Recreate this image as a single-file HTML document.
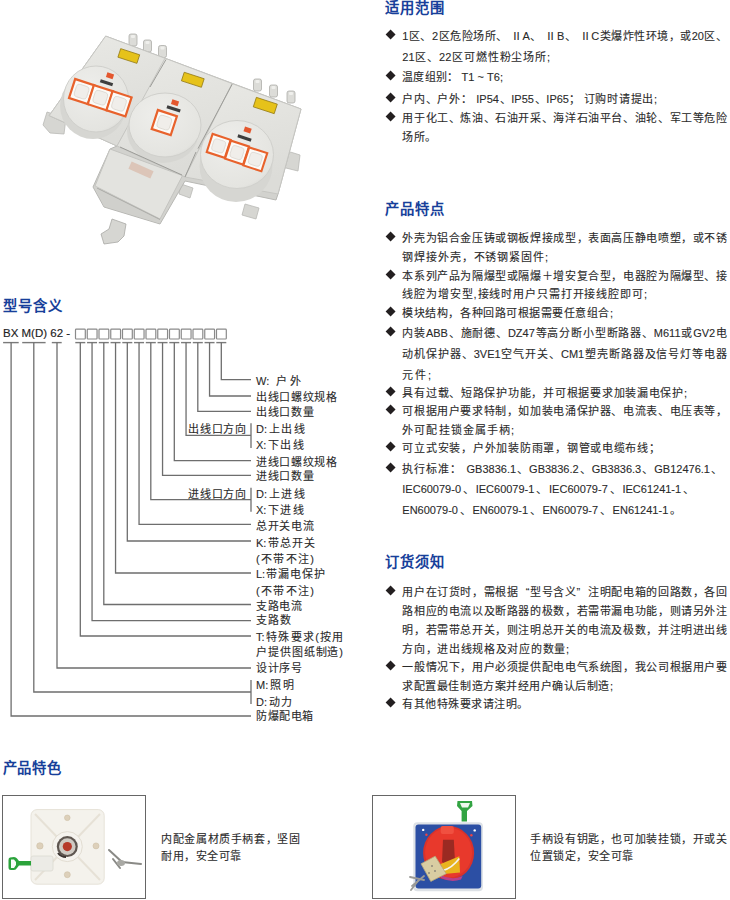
<!DOCTYPE html>
<html lang="zh-CN"><head><meta charset="utf-8">
<style>
html,body{margin:0;padding:0;background:#fff;}
body{width:730px;height:900px;overflow:hidden;position:relative;font-family:"Liberation Sans",sans-serif;color:#2a2a2a;}
.h{position:absolute;font-weight:bold;color:#173f9a;font-size:14.3px;line-height:16px;height:16px;white-space:nowrap;text-align:justify;text-align-last:justify;}
.t{position:absolute;-webkit-text-stroke:0.1px #2a2a2a;font-size:11.00px;line-height:16px;height:16px;white-space:nowrap;text-align:justify;text-align-last:justify;}
.q1{display:inline-block;width:11px;text-align:right;text-align-last:right}.q2{display:inline-block;width:11px;text-align:left;text-align-last:left}
.d{position:absolute;width:7.2px;height:7.2px;background:#231f20;transform:rotate(45deg);}
.l{position:absolute;-webkit-text-stroke:0.1px #2a2a2a;font-size:11px;line-height:14px;height:14px;white-space:nowrap;text-align:justify;text-align-last:justify;}
.c{position:absolute;color:#222;-webkit-text-stroke:0.15px #222;font-size:11.5px;line-height:14px;height:14px;white-space:nowrap;}
svg{position:absolute;left:0;top:0;}
</style></head><body>

<div class="h" style="left:385.0px;top:0.2px;width:58.5px">适用范围</div>
<div class="h" style="left:385.0px;top:200.7px;width:58.5px">产品特点</div>
<div class="h" style="left:385.0px;top:554.2px;width:58.5px">订货须知</div>
<div class="h" style="left:3.0px;top:298.2px;width:58.5px">型号含义</div>
<div class="t" style="left:402.3px;top:28.2px;width:324.7px">1区、2区危险场所、 ⅡA、 ⅡB、 ⅡC类爆炸性环境，或20区、</div>
<div class="d" style="left:386.7px;top:31.2px"></div>
<div class="t" style="left:402.3px;top:49.0px;width:147.7px">21区、22区可燃性粉尘场所;</div>
<div class="t" style="left:402.3px;top:69.4px;width:100.7px">温度组别： T1 ~ T6;</div>
<div class="d" style="left:386.7px;top:72.4px"></div>
<div class="t" style="left:402.3px;top:91.0px;width:254.7px">户内、户外： IP54、IP55、IP65； 订购时请提出;</div>
<div class="d" style="left:386.7px;top:94.0px"></div>
<div class="t" style="left:402.3px;top:110.0px;width:324.7px">用于化工、炼油、石油开采、海洋石油平台、油轮、军工等危险</div>
<div class="d" style="left:386.7px;top:113.0px"></div>
<div class="t" style="left:402.3px;top:129.3px;width:33.7px">场所。</div>
<div class="t" style="left:402.3px;top:230.3px;width:324.7px">外壳为铝合金压铸或钢板焊接成型，表面高压静电喷塑，或不锈</div>
<div class="d" style="left:386.7px;top:233.3px"></div>
<div class="t" style="left:402.3px;top:249.2px;width:145.7px">钢焊接外壳，不锈钢紧固件;</div>
<div class="t" style="left:402.3px;top:267.7px;width:324.7px">本系列产品为隔爆型或隔爆＋增安复合型，电器腔为隔爆型、接</div>
<div class="d" style="left:386.7px;top:270.7px"></div>
<div class="t" style="left:402.3px;top:286.4px;width:244.7px">线腔为增安型,接线时用户只需打开接线腔即可;</div>
<div class="t" style="left:402.3px;top:305.2px;width:210.7px">模块结构，各种回路可根据需要任意组合;</div>
<div class="d" style="left:386.7px;top:308.2px"></div>
<div class="t" style="left:402.3px;top:325.3px;width:324.7px">内装ABB、施耐德、DZ47等高分断小型断路器、M611或GV2电</div>
<div class="d" style="left:386.7px;top:328.3px"></div>
<div class="t" style="left:402.3px;top:346.3px;width:324.7px">动机保护器、3VE1空气开关、CM1塑壳断路器及信号灯等电器</div>
<div class="t" style="left:402.3px;top:366.5px;width:28.7px">元件;</div>
<div class="t" style="left:402.3px;top:384.8px;width:284.7px">具有过载、短路保护功能，并可根据要求加装漏电保护;</div>
<div class="d" style="left:386.7px;top:387.8px"></div>
<div class="t" style="left:402.3px;top:403.3px;width:324.7px">可根据用户要求特制，如加装电涌保护器、电流表、电压表等，</div>
<div class="d" style="left:386.7px;top:406.3px"></div>
<div class="t" style="left:402.3px;top:422.1px;width:111.7px">外可配挂锁金属手柄;</div>
<div class="t" style="left:402.3px;top:439.8px;width:257.7px">可立式安装，户外加装防雨罩，钢管或电缆布线；</div>
<div class="d" style="left:386.7px;top:442.8px"></div>
<div class="t" style="left:402.3px;top:461.1px;width:319.7px">执行标准： GB3836.1、GB3836.2、GB3836.3、GB12476.1、</div>
<div class="d" style="left:386.7px;top:464.1px"></div>
<div class="t" style="left:402.3px;top:480.7px;width:291.7px">IEC60079-0、IEC60079-1、IEC60079-7、IEC61241-1、</div>
<div class="t" style="left:402.3px;top:501.6px;width:278.7px">EN60079-0、EN60079-1、EN60079-7、EN61241-1。</div>
<div class="t" style="left:402.3px;top:584.3px;width:324.7px">用户在订货时，需根据<span class=q1>“</span>型号含义<span class=q2>”</span>注明配电箱的回路数，各回</div>
<div class="d" style="left:386.7px;top:587.3px"></div>
<div class="t" style="left:402.3px;top:603.3px;width:324.7px">路相应的电流以及断路器的极数，若需带漏电功能，则请另外注</div>
<div class="t" style="left:402.3px;top:621.7px;width:324.7px">明，若需带总开关，则注明总开关的电流及极数，并注明进出线</div>
<div class="t" style="left:402.3px;top:640.5px;width:166.7px">方向，进出线规格及对应的数量;</div>
<div class="t" style="left:402.3px;top:659.0px;width:324.7px">一般情况下，用户必须提供配电电气系统图，我公司根据用户要</div>
<div class="d" style="left:386.7px;top:662.0px"></div>
<div class="t" style="left:402.3px;top:677.6px;width:210.7px">求配置最佳制造方案并经用户确认后制造;</div>
<div class="t" style="left:402.3px;top:696.0px;width:125.7px">有其他特殊要求请注明。</div>
<div class="d" style="left:386.7px;top:699.0px"></div>
<div class="l" style="left:256.0px;top:373.6px;width:45.0px">W:  户外</div>
<div class="l" style="left:256.0px;top:389.6px;width:81.0px">出线口螺纹规格</div>
<div class="l" style="left:256.0px;top:404.6px;width:57.5px">出线口数量</div>
<div class="l" style="left:256.0px;top:421.6px;width:48.5px">D:上出线</div>
<div class="l" style="left:256.0px;top:438.2px;width:48.0px">X:下出线</div>
<div class="l" style="left:188.4px;top:421.7px;width:57.6px">出线口方向</div>
<div class="l" style="left:256.0px;top:454.6px;width:81.0px">进线口螺纹规格</div>
<div class="l" style="left:256.0px;top:469.2px;width:57.5px">进线口数量</div>
<div class="l" style="left:256.0px;top:486.6px;width:48.5px">D:上进线</div>
<div class="l" style="left:256.0px;top:502.6px;width:48.0px">X:下进线</div>
<div class="l" style="left:188.4px;top:487.2px;width:57.6px">进线口方向</div>
<div class="l" style="left:256.0px;top:519.1px;width:57.5px">总开关电流</div>
<div class="l" style="left:256.0px;top:535.6px;width:59.0px">K:带总开关</div>
<div class="l" style="left:256.0px;top:551.6px;width:58.0px">(不带不注)</div>
<div class="l" style="left:256.0px;top:567.1px;width:69.5px">L:带漏电保护</div>
<div class="l" style="left:256.0px;top:583.9px;width:58.0px">(不带不注)</div>
<div class="l" style="left:256.0px;top:598.9px;width:46.0px">支路电流</div>
<div class="l" style="left:256.0px;top:613.1px;width:34.5px">支路数</div>
<div class="l" style="left:256.0px;top:629.9px;width:87.5px">T:特殊要求(按用</div>
<div class="l" style="left:256.0px;top:645.1px;width:87.0px">户提供图纸制造)</div>
<div class="l" style="left:256.0px;top:660.6px;width:46.0px">设计序号</div>
<div class="l" style="left:256.0px;top:677.9px;width:38.5px">M:照明</div>
<div class="l" style="left:256.0px;top:694.6px;width:36.0px">D:动力</div>
<div class="l" style="left:256.0px;top:709.1px;width:57.0px">防爆配电箱</div>
<div class="c" style="left:3px;top:326.3px">BX M(D) 62 -</div>
<svg width="730" height="900" style="left:0;top:0" viewBox="0 0 730 900">
<g fill="none" stroke="#8a8a8a" stroke-width="1.2">
<rect x="75.50" y="329.1" width="9.8" height="9.9" rx="0.8"/>
<rect x="87.25" y="329.1" width="9.8" height="9.9" rx="0.8"/>
<rect x="99.00" y="329.1" width="9.8" height="9.9" rx="0.8"/>
<rect x="110.75" y="329.1" width="9.8" height="9.9" rx="0.8"/>
<rect x="122.50" y="329.1" width="9.8" height="9.9" rx="0.8"/>
<rect x="134.25" y="329.1" width="9.8" height="9.9" rx="0.8"/>
<rect x="146.00" y="329.1" width="9.8" height="9.9" rx="0.8"/>
<rect x="157.75" y="329.1" width="9.8" height="9.9" rx="0.8"/>
<rect x="169.50" y="329.1" width="9.8" height="9.9" rx="0.8"/>
<rect x="181.25" y="329.1" width="9.8" height="9.9" rx="0.8"/>
<rect x="193.00" y="329.1" width="9.8" height="9.9" rx="0.8"/>
<rect x="204.75" y="329.1" width="9.8" height="9.9" rx="0.8"/>
<rect x="216.50" y="329.1" width="9.8" height="9.9" rx="0.8"/>
</g>
<g fill="none" stroke="#7a7a7a" stroke-width="1.4">
<line x1="3.10" y1="342.6" x2="18.70" y2="342.6"/>
<line x1="22.20" y1="342.6" x2="45.60" y2="342.6"/>
<line x1="51.80" y1="342.6" x2="61.70" y2="342.6"/>
<line x1="75.30" y1="342.6" x2="85.30" y2="342.6"/>
<line x1="87.05" y1="342.6" x2="97.05" y2="342.6"/>
<line x1="98.80" y1="342.6" x2="108.80" y2="342.6"/>
<line x1="110.55" y1="342.6" x2="120.55" y2="342.6"/>
<line x1="122.30" y1="342.6" x2="132.30" y2="342.6"/>
<line x1="134.05" y1="342.6" x2="144.05" y2="342.6"/>
<line x1="145.80" y1="342.6" x2="155.80" y2="342.6"/>
<line x1="157.55" y1="342.6" x2="167.55" y2="342.6"/>
<line x1="169.30" y1="342.6" x2="179.30" y2="342.6"/>
<line x1="181.05" y1="342.6" x2="191.05" y2="342.6"/>
<line x1="192.80" y1="342.6" x2="202.80" y2="342.6"/>
<line x1="204.55" y1="342.6" x2="214.55" y2="342.6"/>
<line x1="216.30" y1="342.6" x2="226.30" y2="342.6"/>
</g>
<g fill="none" stroke="#6e6e6e" stroke-width="1.3">
<polyline points="11.10,342.6 11.10,716.00 251.00,716.00"/>
<polyline points="33.80,342.6 33.80,692.00 251.00,692.00"/>
<polyline points="57.00,342.6 57.00,668.00 251.00,668.00"/>
<polyline points="80.30,342.6 80.30,636.00 251.00,636.00"/>
<polyline points="92.05,342.6 92.05,620.70 251.00,620.70"/>
<polyline points="103.80,342.6 103.80,604.50 251.00,604.50"/>
<polyline points="115.55,342.6 115.55,573.00 251.00,573.00"/>
<polyline points="127.30,342.6 127.30,541.00 251.00,541.00"/>
<polyline points="139.05,342.6 139.05,524.30 251.00,524.30"/>
<polyline points="150.80,342.6 150.80,499.70 251.00,499.70"/>
<polyline points="162.55,342.6 162.55,475.30 251.00,475.30"/>
<polyline points="174.30,342.6 174.30,460.70 251.00,460.70"/>
<polyline points="186.05,342.6 186.05,435.30 251.00,435.30"/>
<polyline points="197.80,342.6 197.80,411.30 251.00,411.30"/>
<polyline points="209.55,342.6 209.55,396.00 251.00,396.00"/>
<polyline points="221.30,342.6 221.30,379.60 251.00,379.60"/>
<line x1="251.00" y1="423.30" x2="251.00" y2="448.00"/>
<line x1="251.00" y1="487.70" x2="251.00" y2="511.70"/>
<line x1="251.00" y1="680.00" x2="251.00" y2="704.00"/>
</g>
</svg>
<svg width="365" height="280" viewBox="0 0 365 280" style="left:0;top:0">
<defs>
<linearGradient id="gbox" x1="0" y1="0" x2="0.3" y2="1">
<stop offset="0" stop-color="#e9e9e5"/><stop offset="1" stop-color="#dcdcd8"/></linearGradient>
<radialGradient id="gcov" cx="0.4" cy="0.35" r="0.75">
<stop offset="0" stop-color="#eeeeeb"/><stop offset="0.85" stop-color="#e4e4e0"/><stop offset="1" stop-color="#d4d4d0"/></radialGradient>
</defs>
<!-- lugs -->
<g fill="#d6d6d2" stroke="#b9b9b5" stroke-width="0.8">
<polygon points="47,112 66,118 64,134 50,133 43,125"/>
<polygon points="284,150 300,155 298,171 282,167"/>
<polygon points="245,204 259,208 256,219 242,215"/>
<polygon points="181,184 193,188 190,198 179,194"/>
</g>
<!-- glands -->
<g fill="#dcdcd8" stroke="#adada9" stroke-width="0.8">
<rect x="129" y="34" width="8" height="12" rx="2"/>
<rect x="143.5" y="40" width="8" height="12" rx="2"/>
<rect x="158.5" y="45.5" width="8" height="12" rx="2"/>
<rect x="253.5" y="79" width="8" height="12" rx="2"/>
<rect x="269.5" y="85" width="8" height="12" rx="2"/>
<rect x="287" y="91" width="8" height="12" rx="2"/>
</g>
<g fill="#efefec"><rect x="131" y="35" width="4" height="3" rx="1"/><rect x="145.5" y="41" width="4" height="3" rx="1"/><rect x="160.5" y="46.5" width="4" height="3" rx="1"/><rect x="255.5" y="80" width="4" height="3" rx="1"/><rect x="271.5" y="86" width="4" height="3" rx="1"/><rect x="289" y="92" width="4" height="3" rx="1"/></g>
<!-- body silhouette -->
<polygon points="105.7,36.1 301,109 278,194 276,200 185,181 160,224 104,207 93,187 110,149 117,146 49.2,115.6" fill="#d2d2ce" stroke="#b8b8b4" stroke-width="1"/>
<!-- left box -->
<polygon points="105.7,36.1 167,59 117,146 49.2,115.6" fill="url(#gbox)" stroke="#c6c6c2" stroke-width="1"/>
<!-- middle box -->
<polygon points="165,58.2 232.2,83.6 185,177 117,146" fill="url(#gbox)" stroke="#c6c6c2" stroke-width="1"/>
<!-- right box -->
<polygon points="232.2,83.6 301,109 278,194 185,177" fill="url(#gbox)" stroke="#c6c6c2" stroke-width="1"/>
<!-- bottom box -->
<polygon points="110,149 182.5,175.6 160,219 95,186" fill="#e3e3df" stroke="#c4c4c0" stroke-width="1"/>
<polygon points="95,186 160,219 159,223 104,206" fill="#d0d0cc"/>
<line x1="97" y1="188" x2="160" y2="219.5" stroke="#aaaaa6" stroke-width="1"/>
<!-- cover rims -->
<g fill="#d6d6d2">
<ellipse cx="93" cy="106" rx="33" ry="33"/>
<ellipse cx="163" cy="131" rx="36" ry="32"/>
<ellipse cx="236" cy="166" rx="36.5" ry="36"/>
</g>
<!-- covers -->
<ellipse cx="96" cy="99" rx="32.5" ry="33" fill="url(#gcov)" stroke="#d0d0cc" stroke-width="1"/>
<ellipse cx="165" cy="125" rx="36" ry="32" fill="url(#gcov)" stroke="#d0d0cc" stroke-width="1"/>
<ellipse cx="237" cy="154.5" rx="36.5" ry="34" fill="url(#gcov)" stroke="#d0d0cc" stroke-width="1"/>
<!-- seams -->
<g stroke="#9d9d99" stroke-width="1" fill="none">
<line x1="166" y1="59.5" x2="150" y2="87"/>
<line x1="232.2" y1="84.2" x2="198" y2="148.6"/>
<line x1="196" y1="152" x2="185" y2="177"/>
<line x1="120" y1="147" x2="182" y2="175"/>
</g>
<!-- labels -->
<g fill="#e6c21a" stroke="#8f7410" stroke-width="0.7">
<rect x="-10" y="-4.5" width="20" height="9" transform="translate(128.8,56) rotate(18)"/>
<rect x="-10.5" y="-4.5" width="21" height="9" transform="translate(192.8,79.8) rotate(18)"/>
<rect x="-11" y="-5" width="22" height="10" transform="translate(265.3,105.5) rotate(18)"/>
</g>
<!-- switches -->
<g transform="translate(81.6,91.6) rotate(18)"><rect x="-10" y="-10" width="20" height="20" fill="#fbfaf7" stroke="#e8622c" stroke-width="2.2"/><rect x="-6.5" y="-6.5" width="13" height="13" rx="3" fill="#f0eeea" stroke="#dcd8d2" stroke-width="0.8"/></g>
<g transform="translate(100.3,97.7) rotate(18)"><rect x="-10" y="-10" width="20" height="20" fill="#fbfaf7" stroke="#e8622c" stroke-width="2.2"/><rect x="-6.5" y="-6.5" width="13" height="13" rx="3" fill="#f0eeea" stroke="#dcd8d2" stroke-width="0.8"/></g>
<g transform="translate(119,103.8) rotate(18)"><rect x="-10" y="-10" width="20" height="20" fill="#fbfaf7" stroke="#e8622c" stroke-width="2.2"/><rect x="-6.5" y="-6.5" width="13" height="13" rx="3" fill="#f0eeea" stroke="#dcd8d2" stroke-width="0.8"/></g>
<g transform="translate(164.3,122.6) rotate(18)"><rect x="-10" y="-10" width="20" height="20" fill="#fbfaf7" stroke="#e8622c" stroke-width="2.2"/><rect x="-6.5" y="-6.5" width="13" height="13" rx="3" fill="#f0eeea" stroke="#dcd8d2" stroke-width="0.8"/></g>
<g transform="translate(218.7,145.9) rotate(18) scale(0.95)"><rect x="-10" y="-10" width="20" height="20" fill="#fbfaf7" stroke="#e8622c" stroke-width="2.2"/><rect x="-6.5" y="-6.5" width="13" height="13" rx="3" fill="#f0eeea" stroke="#dcd8d2" stroke-width="0.8"/></g>
<g transform="translate(237,152.6) rotate(18) scale(0.95)"><rect x="-10" y="-10" width="20" height="20" fill="#fbfaf7" stroke="#e8622c" stroke-width="2.2"/><rect x="-6.5" y="-6.5" width="13" height="13" rx="3" fill="#f0eeea" stroke="#dcd8d2" stroke-width="0.8"/></g>
<g transform="translate(255.3,159.3) rotate(18) scale(0.95)"><rect x="-10" y="-10" width="20" height="20" fill="#fbfaf7" stroke="#e8622c" stroke-width="2.2"/><rect x="-6.5" y="-6.5" width="13" height="13" rx="3" fill="#f0eeea" stroke="#dcd8d2" stroke-width="0.8"/></g>
<g fill="#3e3e3e">
<rect x="-6.5" y="-1.6" width="13" height="3.2" transform="translate(106.5,82.8) rotate(18)"/>
<rect x="-7" y="-1.6" width="14" height="3.2" transform="translate(173.6,108.9) rotate(18)"/>
<rect x="-7" y="-1.6" width="14" height="3.2" transform="translate(244.5,138) rotate(18)"/>
</g>
<g fill="#e4572e">
<rect x="-3.5" y="-2.5" width="7" height="5" transform="translate(110,75.8) rotate(18)"/>
<rect x="-3.5" y="-2.5" width="7" height="5" transform="translate(175,102.7) rotate(18)"/>
<rect x="-3.5" y="-2.5" width="7" height="5" transform="translate(247.6,130) rotate(18)"/>
</g>
<!-- bottom gland -->
<polygon points="112,219 126,224 124,236 118,242 104,244 101,234 109,229" fill="#d6d6d2" stroke="#a8a8a4" stroke-width="0.8"/>
<rect x="-12" y="-4" width="24" height="8" transform="translate(141,170) rotate(24)" fill="#dcc5b8"/>
</svg>

<div style="position:absolute;left:1.75px;top:794.65px;width:142.6px;height:102.7px;border:1.3px solid #666;"></div>
<div style="position:absolute;left:371.65px;top:795.35px;width:142.7px;height:101.7px;border:1.3px solid #666;"></div>
<svg width="730" height="900" viewBox="0 0 730 900" style="left:0;top:0">
<!-- image 1: white plate -->
<rect x="31" y="809.6" width="73.2" height="74.6" rx="6" fill="#f4f2ec" stroke="#e6e2d8" stroke-width="1"/>
<g stroke="#e6e1d6" stroke-width="2" fill="none">
<line x1="35" y1="814" x2="58" y2="838"/><line x1="100" y1="814" x2="77" y2="838"/>
<line x1="35" y1="880" x2="58" y2="856"/><line x1="100" y1="880" x2="77" y2="856"/>
</g>
<circle cx="67.3" cy="846.6" r="15" fill="#f5f3ee" stroke="#e2ddd2" stroke-width="1"/>
<g fill="#ddd0ba" stroke="#cdbfa6" stroke-width="0.6">
<circle cx="67.3" cy="817.8" r="2.8"/><circle cx="39.9" cy="845.9" r="3.2"/>
<circle cx="96" cy="845.9" r="3"/><circle cx="67.3" cy="874.7" r="3"/>
</g>
<circle cx="67.3" cy="846.6" r="10.5" fill="#5e5650"/>
<circle cx="67.3" cy="846.6" r="8.3" fill="#cfcac3"/>
<circle cx="67.3" cy="846.6" r="4.6" fill="#b63a2a"/>
<path d="M58,853 A10,10 0 0 0 66,857" stroke="#3a3330" stroke-width="2" fill="none"/>
<rect x="31" y="856" width="22" height="15" rx="2" fill="#ecebe6" stroke="#dcdad2" stroke-width="0.8"/>
<path d="M10,857.5 Q8.5,857.5 8.5,860 L8.5,867.5 Q8.5,870 11,870 L14,870 Q16,870 17,868 L19,865.5 L31,865.5 L31,861 L19,861 L17,858.5 Q16,857 14,857 Z" fill="#2ba33b"/>
<path d="M11,859.5 L14,859.5 L16,862 L16,865 L14,868 L11,868 Z" fill="#f8fcf8"/>
<g stroke="#8a8a86" stroke-width="2" fill="none" stroke-linecap="round">
<path d="M109,850 L122,862 L141,864"/><path d="M113,859 L120,868"/>
</g>
<ellipse cx="121" cy="863" rx="4" ry="3" fill="#a9a9a4"/>
<!-- image 2: blue square -->
<rect x="413.3" y="822.2" width="69.6" height="69" rx="4" fill="#dde1e6"/>
<rect x="415.5" y="824.4" width="65.7" height="64.1" rx="3" fill="#2c4fa4"/>
<path d="M457.5,801 L472,801 L472.5,806 L467,811 L467,821.5 L461.6,821.5 L461.6,811 L457,806 Z" fill="#33a443"/>
<path d="M460,803 L470,803 L468,807.5 L462,807.5 Z" fill="#eef8ee"/>
<ellipse cx="448.6" cy="852.9" rx="25.5" ry="26.9" fill="#d8322c"/>
<ellipse cx="448.6" cy="852.6" rx="23.5" ry="25" fill="#e8392c"/>
<rect x="440.7" y="826" width="13.1" height="8" rx="2" fill="#f05040"/>
<path d="M443,839.7 L453.8,839.7 L455,862 L448,866 L442,862 Z" fill="#9a2a22"/>
<path d="M440.7,864 L459.3,856.2 L460,872.6 L444,874 Z" fill="#e9b41e"/>
<path d="M459.3,858.4 Q452,868 442.9,870.4" stroke="#f4f4f0" stroke-width="1.6" fill="none"/>
<path d="M440.7,875 Q452,881 462.6,876 L461,879.5 Q451,883 441,878 Z" fill="#b8408a"/>
<polygon points="421,863.8 435.2,856.2 446.2,873.7 430.8,881.4" fill="#d9cda2" stroke="#b5a678" stroke-width="0.8"/>
<g fill="#8f8a7a"><circle cx="432" cy="866" r="1"/><circle cx="435" cy="871" r="1"/><circle cx="429" cy="873" r="1"/></g>
<g stroke="#9a9a96" stroke-width="1.8" fill="none" stroke-linecap="round">
<path d="M410,877 L424,880"/><path d="M412,886 L424,876"/><path d="M411,890 L418,881"/>
</g>
<g fill="#e44"><circle cx="426.4" cy="834.8" r="1.2"/><circle cx="471.4" cy="835.3" r="1.2"/></g>
<g fill="#fff"><circle cx="423.2" cy="829.9" r="1.2"/><circle cx="474.7" cy="830.4" r="1.2"/></g>
</svg>
<div class="h" style="left:2.6px;top:759.5px;width:58.5px">产品特色</div>
<div class="l" style="left:161px;top:831.8px;width:139px">内配金属材质手柄套，坚固</div>
<div class="l" style="left:161px;top:849.3px;width:80px">耐用，安全可靠</div>
<div class="l" style="left:530px;top:831.8px;width:197px">手柄设有钥匙，也可加装挂锁，开或关</div>
<div class="l" style="left:530px;top:848.8px;width:103px">位置锁定，安全可靠</div>

</body></html>
